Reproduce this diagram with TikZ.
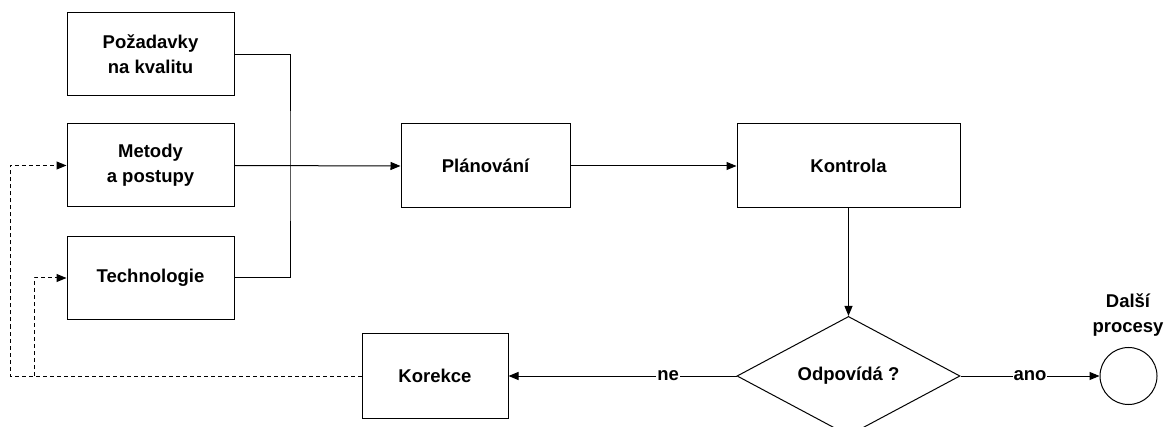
\documentclass[tikz,border=0pt]{standalone}
\usepackage{fontspec}
\setmainfont{Liberation Sans}
\usetikzlibrary{shapes.geometric,arrows.meta}
\begin{document}
\begin{tikzpicture}[x=1pt,y=-1pt,
  font=\fontsize{18.5}{25}\selectfont\bfseries,
  line width=1pt,
  box/.style={draw,rectangle,inner sep=0pt,minimum width=167pt,minimum height=83pt,align=center},
  arr/.style={-{Triangle[length=10pt,width=8pt]}},
  lbl/.style={fill=white,inner sep=1pt},
  dsh/.style={dash pattern=on 4pt off 3pt}]
\useasboundingbox (0,0) rectangle (1164,427);
\node[box] (poz) at (150.5,54.5) {Požadavky\\na kvalitu};
\node[box] (met) at (150.5,165.5) {Metody\\a postupy};
\node[box] (tech) at (150.5,278) {Technologie};
\node[box,minimum width=169pt,minimum height=84pt] (plan) at (485.5,166) {Plánování};
\node[box,minimum width=223pt,minimum height=84pt] (kon) at (848.5,166) {Kontrola};
\node[draw,diamond,inner sep=0pt,minimum width=223pt,minimum height=112pt] (dec) at (848.5,376) {Odpovídá ?};
\node[box,minimum width=146pt,minimum height=84pt] (kor) at (435,376) {Korekce};
\node[draw,circle,inner sep=0pt,minimum size=57pt] (end) at (1128.5,376) {};
\node[align=center] (endlbl) at (1128,315) {Další\\procesy};
\coordinate (j) at (290,166);
\coordinate (d1) at (10,376);
\coordinate (d2) at (34,376);
\draw (poz.east) -| (j) |- (tech.east);
\draw[arr] (met.east) -- (plan.west);
\draw[arr] (plan.east) -- (kon.west);
\draw[arr] (kon.south) -- (dec.north);
\draw[arr] (dec.west) -- node[lbl,pos=0.3] {ne} (kor.east);
\draw[arr] (dec.east) -- node[lbl] {ano} (end.west);
\draw[arr,dsh] (kor.west) -- (d1) |- (met.west);
\draw[arr,dsh] (d2) |- (tech.west);
\end{tikzpicture}
\end{document}
